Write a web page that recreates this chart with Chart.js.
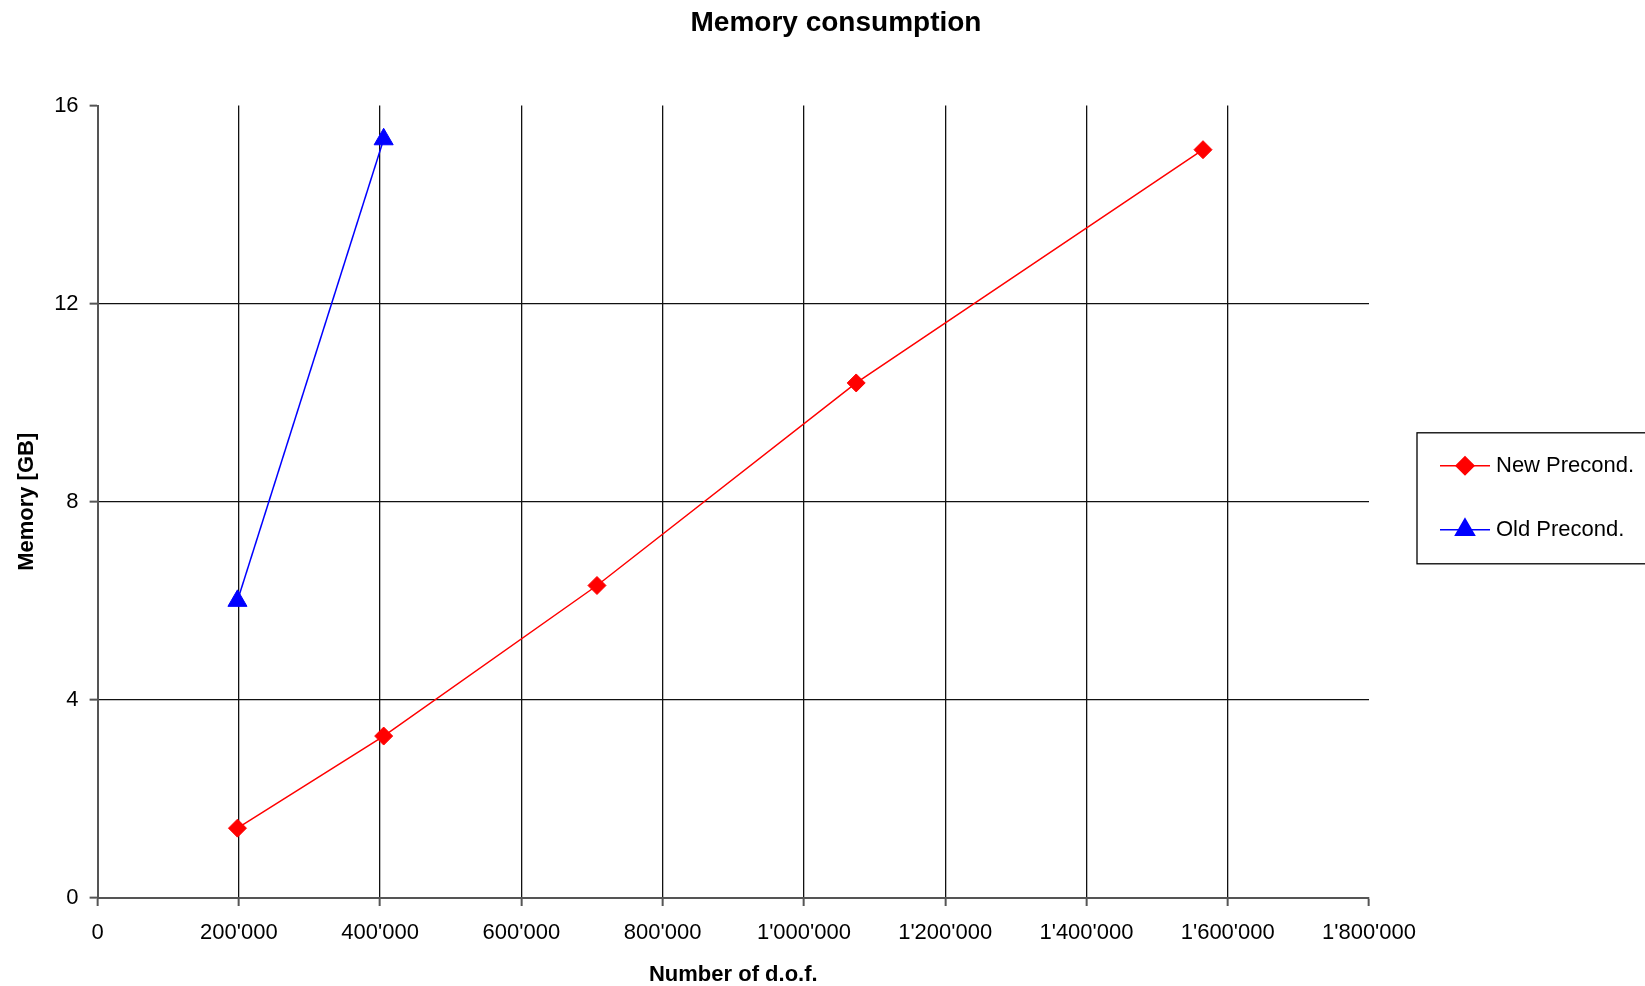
<!DOCTYPE html>
<html>
<head>
<meta charset="utf-8">
<title>Memory consumption</title>
<script src="https://cdn.jsdelivr.net/npm/chart.js@4.4.1/dist/chart.umd.min.js"></script>
<style>
  html, body { margin: 0; padding: 0; background: #fff; }
  #wrap { width: 1645px; height: 986px; }
</style>
</head>
<body>
<div id="wrap"><canvas id="memoryChart" width="1645" height="986"></canvas></div>
<script>
const seriesNames = ['New Precond.', 'Old Precond.'];
const newDof = [198000, 405000, 707000, 1074000, 1565000];
const newMemory = [1.41, 3.27, 6.31, 10.40, 15.11];
const oldDof = [198000, 405000];
const oldMemory = [6.0, 15.32];
const xTicks = [0, 200000, 400000, 600000, 800000, 1000000, 1200000, 1400000, 1600000, 1800000];
const yTicks = [0, 4, 8, 12, 16];

const FONT = "'Liberation Sans', Arial, sans-serif";

// 1'200'000 style, like the swiss excel sheet
function fmtDof(v) {
    return String(v).replace(/\B(?=(\d{3})+(?!\d))/g, "'");
}

const toPoints = (xs, ys) => xs.map((x, i) => ({ x: x, y: ys[i] }));

// old excel look: framed legend box, line with the marker on it
const boxedLegend = {
    id: 'boxedLegend',
    afterDraw(chart) {
        const ctx = chart.ctx;
        const area = chart.chartArea;
        const left = area.right + 48;
        const top = (area.top + area.bottom) / 2 - 69;
        ctx.save();
        ctx.strokeStyle = '#000';
        ctx.lineWidth = 1.3;
        ctx.strokeRect(left, top, 320, 131);
        chart.data.datasets.forEach((ds, i) => {
            const y = top + 33 + i * 64;
            ctx.strokeStyle = ds.borderColor;
            ctx.lineWidth = ds.borderWidth;
            ctx.beginPath();
            ctx.moveTo(left + 23, y);
            ctx.lineTo(left + 73, y);
            ctx.stroke();
            ctx.fillStyle = ds.backgroundColor;
            Chart.helpers.drawPoint(ctx, {
                pointStyle: ds.pointStyle,
                radius: ds.pointRadius,
                rotation: 0,
                borderWidth: 1
            }, left + 48, y);
            ctx.fillStyle = '#000';
            ctx.font = '22px ' + FONT;
            ctx.textAlign = 'left';
            ctx.textBaseline = 'middle';
            ctx.fillText(ds.label, left + 79, y);
        });
        ctx.restore();
    }
};

const gridColor = (edges) => (ctx) => {
    const v = ctx.tick ? ctx.tick.value : null;
    return edges.includes(v) ? 'rgba(0,0,0,0)' : '#111';
};

const ctx = document.getElementById('memoryChart').getContext('2d');
const memoryChart = new Chart(ctx, {
    type: 'line',
    data: {
        datasets: [{
            label: seriesNames[0],
            data: toPoints(newDof, newMemory),
            borderColor: '#ff0000',
            backgroundColor: '#ff0000',
            borderWidth: 1.5,
            pointStyle: 'rectRot',
            pointRadius: 9,
            pointBorderWidth: 1,
            tension: 0,
            fill: false
        }, {
            label: seriesNames[1],
            data: toPoints(oldDof, oldMemory),
            borderColor: '#0000ff',
            backgroundColor: '#0000ff',
            borderWidth: 1.5,
            pointStyle: 'triangle',
            pointRadius: 11,
            pointBorderWidth: 1,
            tension: 0,
            fill: false
        }]
    },
    options: {
        responsive: false,
        animation: false,
        layout: { padding: { left: 27, right: 0, top: 0, bottom: 0 } },
        plugins: {
            legend: { display: false },
            tooltip: { enabled: false },
            title: {
                display: true,
                text: 'Memory consumption',
                color: '#000',
                font: { family: FONT, size: 28, weight: 'bold', lineHeight: 1.2 },
                padding: { top: 6, bottom: 66 }
            }
        },
        scales: {
            x: {
                type: 'linear',
                min: 0,
                max: 1800000,
                afterBuildTicks: (s) => { s.ticks = xTicks.map(v => ({ value: v })); },
                afterFit: (s) => { s.height = 88; },
                grid: {
                    color: gridColor([0, 1800000]),
                    lineWidth: 1.3,
                    tickLength: 8,
                    tickColor: '#555',
                    tickWidth: 2
                },
                border: { color: '#555', width: 2 },
                ticks: {
                    color: '#000',
                    padding: 14,
                    maxRotation: 0,
                    autoSkip: false,
                    font: { family: FONT, size: 22 },
                    callback: (v) => fmtDof(v)
                },
                title: {
                    display: true,
                    text: 'Number of d.o.f.',
                    color: '#000',
                    font: { family: FONT, size: 22, weight: 'bold', lineHeight: 1 },
                    padding: { top: 0, bottom: 0 }
                }
            },
            y: {
                min: 0,
                max: 16,
                afterBuildTicks: (s) => { s.ticks = yTicks.map(v => ({ value: v })); },
                afterFit: (s) => { s.width = 70.6; },
                grid: {
                    color: gridColor([0, 16]),
                    lineWidth: 1.3,
                    tickLength: 8,
                    tickColor: '#555',
                    tickWidth: 2
                },
                border: { color: '#555', width: 2 },
                ticks: {
                    color: '#000',
                    padding: 11,
                    font: { family: FONT, size: 22 }
                },
                title: {
                    display: true,
                    text: 'Memory [GB]',
                    color: '#000',
                    font: { family: FONT, size: 22, weight: 'bold', lineHeight: 1.2 },
                    padding: { top: -13, bottom: 0 }
                }
            },
            // empty right axis, only reserves the room where the legend box sits
            legendRoom: {
                position: 'right',
                display: true,
                afterFit: (s) => { s.width = 276; },
                grid: { display: false },
                border: { display: false },
                ticks: { display: false }
            }
        }
    },
    plugins: [boxedLegend]
});
</script>
</body>
</html>
